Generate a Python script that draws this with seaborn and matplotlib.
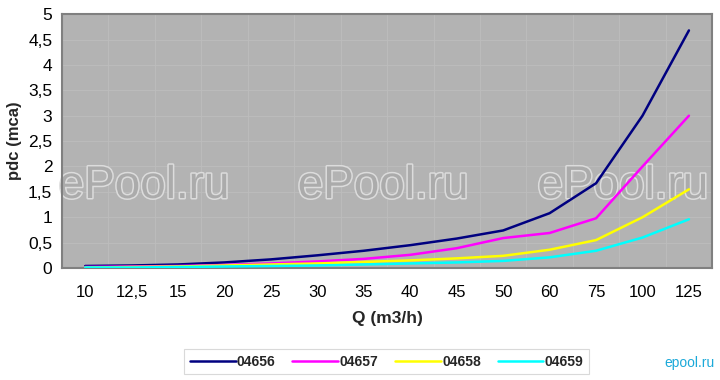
import numpy as np
import pandas as pd
import matplotlib
matplotlib.use("Agg")
import matplotlib.pyplot as plt
import matplotlib.patheffects as pe
from matplotlib.ticker import FixedLocator, FuncFormatter
import seaborn as sns

categories = ["10", "12,5", "15", "20", "25", "30", "35", "40", "45", "50", "60", "75", "100", "125"]
s04656 = [0.04, 0.05, 0.07, 0.11, 0.17, 0.25, 0.34, 0.45, 0.58, 0.74, 1.08, 1.67, 3.0, 4.68]
s04657 = [0.02, 0.03, 0.04, 0.06, 0.09, 0.13, 0.18, 0.26, 0.39, 0.59, 0.69, 0.98, 2.0, 3.0]
s04658 = [0.01, 0.02, 0.03, 0.05, 0.07, 0.09, 0.12, 0.15, 0.19, 0.24, 0.36, 0.55, 1.0, 1.55]
s04659 = [0.01, 0.01, 0.02, 0.03, 0.04, 0.05, 0.07, 0.09, 0.11, 0.14, 0.21, 0.34, 0.6, 0.96]
series_names = ["04656", "04657", "04658", "04659"]
colors = ["#000080", "#ff00ff", "#ffff00", "#00ffff"]

sns.set_style("white")
plt.rcParams["font.family"] = ["Liberation Sans", "DejaVu Sans"]

rows = []
for name, vals in zip(series_names, [s04656, s04657, s04658, s04659]):
    for i, v in enumerate(vals):
        rows.append({"pos": i, "val": v, "series": name})
df = pd.DataFrame(rows)

fig = plt.figure(figsize=(7.2, 3.8), dpi=100)
ax = fig.add_axes([0.0861, 0.2947, 0.903, 0.668])
ax.set_facecolor("#b3b3b3")

sns.lineplot(data=df, x="pos", y="val", hue="series", palette=colors,
             linewidth=1.8, ax=ax, legend=True, zorder=3)

ax.set_xlim(-0.5, len(categories) - 0.5)
ax.set_ylim(0, 5)
ax.xaxis.set_major_locator(FixedLocator(np.arange(len(categories))))
ax.set_xticklabels(categories)
ax.xaxis.set_minor_locator(FixedLocator(np.arange(-0.5, len(categories), 1.0)))
ax.tick_params(axis="x", which="major", length=0, pad=12, labelsize=12)
ax.tick_params(axis="x", which="minor", length=5, width=0.8, color="#808080", direction="out")
ax.yaxis.set_major_locator(FixedLocator(np.arange(0, 5.01, 0.5)))
ax.yaxis.set_major_formatter(FuncFormatter(lambda v, p: (f"{v:g}").replace(".", ",")))
ax.tick_params(axis="y", length=5, width=0.8, color="#808080", direction="out", labelsize=12.5, pad=2)
ax.tick_params(axis="both", colors="#808080", labelcolor="black")

ax.grid(True, which="major", axis="y", color="#bdbdbd", linewidth=0.6)
ax.grid(True, which="minor", axis="x", color="#bdbdbd", linewidth=0.6)
ax.set_axisbelow(True)
for s in ax.spines.values():
    s.set_color("#808080")
    s.set_linewidth(1.5)

ax.set_xlabel("Q (m3/h)", fontsize=12.5, fontweight="bold", labelpad=8)
ax.set_ylabel("pdc (mca)", fontsize=12, fontweight="bold", labelpad=4)

# watermarks (behind the lines)
for xf in [0.2, 0.532, 0.865]:
    ax.text(xf, 1 - 186 / 380, "ePool.ru", fontsize=33, color="#ababab",
            ha="center", va="center", zorder=2, transform=fig.transFigure, clip_on=False,
            path_effects=[pe.withStroke(linewidth=2.2, foreground="#dcdcdc")])
fig.text(0.993, 0.045, "epool.ru", fontsize=10, color="#1ba9d9", ha="right", va="center")

h, l = ax.get_legend_handles_labels()
ax.legend_.remove()
leg = fig.legend(h, l, loc="center", bbox_to_anchor=(0.537, 0.048), ncol=4,
                 frameon=True, fancybox=False, handlelength=3.3, handletextpad=0.1,
                 columnspacing=1.2, prop={"weight": "bold", "size": 10},
                 borderpad=0.4)
leg.get_frame().set_edgecolor("#d0d0d0")
leg.get_frame().set_linewidth(0.8)

fig.savefig("out.png", dpi=100)
